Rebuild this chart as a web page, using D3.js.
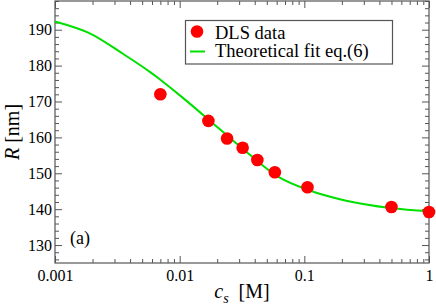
<!DOCTYPE html>
<html>
<head>
<meta charset="utf-8">
<script src="https://cdn.jsdelivr.net/npm/d3@7"></script>
<style>
  body { margin: 0; background: #fff; }
  svg { display: block; }
</style>
</head>
<body>
<script>
// DLS data
const dlsCs = [0.007, 0.017, 0.024, 0.032, 0.042, 0.058, 0.106, 0.50, 1.0];
const dlsR = [172.0, 164.6, 159.7, 157.1, 153.7, 150.3, 146.1, 140.6, 139.2];

// theoretical fit curve
const fitCs = [0.001, 0.0019, 0.0035, 0.0058, 0.0068, 0.0108, 0.020, 0.037, 0.0625, 0.106, 0.208, 0.495, 1.0];
const fitR = [192.3, 189.0, 183.3, 178.2, 176.4, 170.8, 162.9, 155.0, 148.9, 145.4, 142.5, 140.3, 139.4];

const xMajor = [0.001, 0.01, 0.1, 1];
const xTickLabels = ["0.001", "0.01", "0.1", "1"];
const yMajor = [130, 140, 150, 160, 170, 180, 190];

const width = 436;
const height = 307;
const margin = {left: 55, right: 7, top: 1, bottom: 44};
const serif = "\"Liberation Serif\", serif";

const svg = d3.select("body")
    .append("svg")
    .attr("width", width)
    .attr("height", height)
    .style("font-family", serif);

const x = d3.scaleLog()
    .domain([0.001, 1])
    .range([margin.left, width - margin.right]);

const y = d3.scaleLinear()
    .domain([125, 198])
    .range([height - margin.bottom, margin.top]);

// minor ticks
let xMinor = [];
[0.001, 0.01, 0.1].forEach(d => {
    for (let k = 2; k <= 9; k++) xMinor.push(d * k);
});
let yMinor = d3.range(126, 199, 2).filter(v => v % 10 !== 0);

const axisColor = "#555";
const fs = 16;

function styleAxis(g) {
    g.attr("font-family", null);
    g.selectAll("path").remove();
    g.selectAll("line").attr("stroke", axisColor);
    g.selectAll("text")
        .style("font-family", serif)
        .style("font-size", fs + "px")
        .attr("fill", "#000");
}

const x0 = margin.left, x1 = width - margin.right;
const y0 = height - margin.bottom, y1 = margin.top;

// bottom
svg.append("g")
    .attr("transform", `translate(0,${y0})`)
    .call(d3.axisBottom(x).tickValues(xMinor).tickSize(-4).tickFormat(""))
    .call(styleAxis);
svg.append("g")
    .attr("transform", `translate(0,${y0})`)
    .call(d3.axisBottom(x).tickValues(xMajor).tickSize(-7).tickPadding(7)
        .tickFormat((d, i) => xTickLabels[i]))
    .call(styleAxis);
// top
svg.append("g")
    .attr("transform", `translate(0,${y1})`)
    .call(d3.axisTop(x).tickValues(xMinor).tickSize(-4).tickFormat(""))
    .call(styleAxis);
svg.append("g")
    .attr("transform", `translate(0,${y1})`)
    .call(d3.axisTop(x).tickValues(xMajor).tickSize(-7).tickFormat(""))
    .call(styleAxis);
// left
svg.append("g")
    .attr("transform", `translate(${x0},0)`)
    .call(d3.axisLeft(y).tickValues(yMinor).tickSize(-4).tickFormat(""))
    .call(styleAxis);
svg.append("g")
    .attr("transform", `translate(${x0},0)`)
    .call(d3.axisLeft(y).tickValues(yMajor).tickSize(-7).tickFormat(d3.format("d")))
    .call(styleAxis)
    .call(g => g.selectAll("text").attr("x", -3));
// right
svg.append("g")
    .attr("transform", `translate(${x1},0)`)
    .call(d3.axisRight(y).tickValues(yMinor).tickSize(-4).tickFormat(""))
    .call(styleAxis);
svg.append("g")
    .attr("transform", `translate(${x1},0)`)
    .call(d3.axisRight(y).tickValues(yMajor).tickSize(-7).tickFormat(""))
    .call(styleAxis);

// frame
svg.append("rect")
    .attr("x", x0).attr("y", y1)
    .attr("width", x1 - x0).attr("height", y0 - y1)
    .attr("fill", "none")
    .attr("stroke", axisColor)
    .attr("stroke-width", 1.2);

// fit curve
const line = d3.line()
    .x(d => x(d[0]))
    .y(d => y(d[1]))
    .curve(d3.curveCatmullRom);

svg.append("path")
    .datum(fitCs.map((c, i) => [c, fitR[i]]))
    .attr("fill", "none")
    .attr("stroke", "#00e000")
    .attr("stroke-width", 2)
    .attr("d", line);

// data points
svg.append("g")
    .selectAll("circle")
    .data(dlsCs.map((c, i) => [c, dlsR[i]]))
    .join("circle")
    .attr("cx", d => x(d[0]))
    .attr("cy", d => y(d[1]))
    .attr("r", 6.3)
    .attr("fill", "#ff0000");

// legend
const leg = svg.append("g");
leg.append("rect")
    .attr("x", 185.5).attr("y", 20.5)
    .attr("width", 207).attr("height", 43.5)
    .attr("fill", "#fff")
    .attr("stroke", axisColor)
    .attr("stroke-width", 1.2);
leg.append("circle")
    .attr("cx", 197).attr("cy", 31.5).attr("r", 6.3)
    .attr("fill", "#ff0000");
leg.append("line")
    .attr("x1", 190).attr("x2", 205)
    .attr("y1", 51.5).attr("y2", 51.5)
    .attr("stroke", "#00e000").attr("stroke-width", 2);
leg.append("text")
    .attr("x", 215).attr("y", 38.5)
    .style("font-size", "18.5px")
    .text("DLS data");
leg.append("text")
    .attr("x", 215).attr("y", 56.5)
    .style("font-size", "18.5px")
    .text("Theoretical fit eq.(6)");

// panel label
svg.append("text")
    .attr("x", 70).attr("y", 244)
    .style("font-size", "18px")
    .text("(a)");

// axis titles
const yt = svg.append("text")
    .attr("transform", `translate(19,${(y0 + y1) / 2}) rotate(-90)`)
    .attr("text-anchor", "middle")
    .style("font-size", "20px");
yt.append("tspan").style("font-style", "italic").text("R");
yt.append("tspan").text(" [nm]");

const xt = svg.append("text")
    .attr("x", (x0 + x1) / 2)
    .attr("y", 298)
    .attr("text-anchor", "middle")
    .style("font-size", "20px");
xt.append("tspan").style("font-style", "italic").text("c");
xt.append("tspan").style("font-style", "italic").style("font-size", "14px").attr("dy", 5).text("s");
xt.append("tspan").attr("dy", -5).text("\u00a0\u00a0[M]");
</script>
</body>
</html>
